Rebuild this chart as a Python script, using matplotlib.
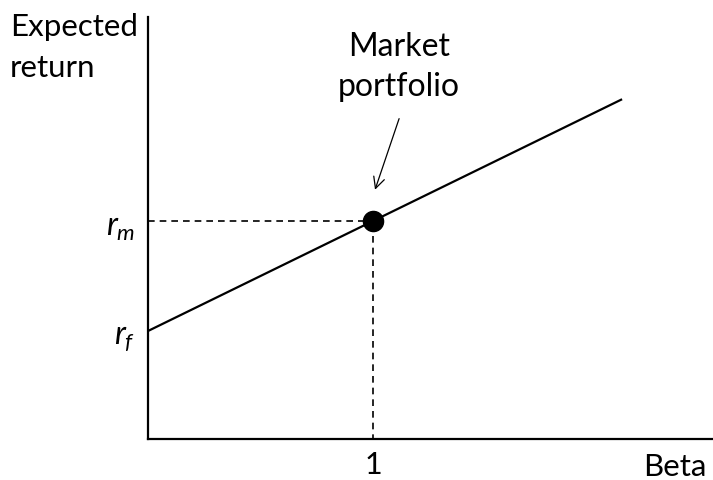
import matplotlib
matplotlib.use("Agg")
import matplotlib.pyplot as plt
from matplotlib.transforms import ScaledTranslation

# Conceptual data (Security Market Line)
beta_range = [0.0, 2.107]
rf = 1.0
rm = 2.0
beta_m = 1.0
x_ticks = [1]
x_tick_labels = ["1"]
y_ticks = [rf, rm]
y_tick_labels = [r"$r_f$", r"$r_m$"]

plt.rcParams['font.family'] = ['Lato', 'DejaVu Sans']
plt.rcParams['mathtext.fontset'] = 'custom'
plt.rcParams['mathtext.it'] = 'Lato:italic'
plt.rcParams['mathtext.rm'] = 'Lato'

W, H = 713, 481
fig = plt.figure(figsize=(W / 100, H / 100), dpi=100)
ax = fig.add_axes([148 / W, (H - 440) / H, (W - 148) / W, (440 - 18) / H])

slope = rm - rf
sml_y = [rf + slope * b for b in beta_range]
ax.plot(beta_range, sml_y, color='black', lw=1.6, solid_capstyle='butt')

ax.plot([0, beta_m], [rm, rm], color='black', lw=1.2, ls=(0, (4, 3)))
ax.plot([beta_m, beta_m], [0, rm], color='black', lw=1.2, ls=(0, (4, 3)))
ax.plot([beta_m], [rm], 'o', color='black', markersize=14.5, zorder=5)

ax.set_xlim(0, (W - 148) / 225)
ax.set_ylim(1 - (440 - 332) / 110, 1 + (332 - 18) / 110)

for s in ['top', 'right']:
    ax.spines[s].set_visible(False)
for s in ['left', 'bottom']:
    ax.spines[s].set_linewidth(1.6)

ax.set_xticks(x_ticks)
ax.set_xticklabels(x_tick_labels, fontsize=22)
ax.set_yticks(y_ticks)
ax.set_yticklabels(y_tick_labels, fontsize=23)
ax.tick_params(axis='x', length=0, pad=8)
ax.tick_params(axis='y', length=0, pad=9)
shift = ScaledTranslation(0, -6 / 100, fig.dpi_scale_trans)
for lbl in ax.get_yticklabels():
    lbl.set_va('center')
    lbl.set_transform(lbl.get_transform() + shift)

fig.text(10 / W, 1 - 13 / H, "Expected\nreturn", fontsize=22.5, ha='left', va='top',
         linespacing=1.55)
fig.text(675 / W, 1 - 476 / H, "Beta", fontsize=22.5, ha='center', va='baseline')

ax.annotate("Market\nportfolio", xy=(beta_m + 0.01, rm + 0.28),
            xytext=(399 / W, 1 - 67 / H), textcoords='figure fraction',
            fontsize=23, ha='center', va='center', linespacing=1.42)
ax.annotate("", xy=(beta_m + 0.005, rm + 0.26), xytext=(400 / W, 1 - 117 / H),
            textcoords='figure fraction',
            arrowprops=dict(arrowstyle='->', color='black', lw=0.9,
                            mutation_scale=20))

fig.savefig("out.png", dpi=100)
